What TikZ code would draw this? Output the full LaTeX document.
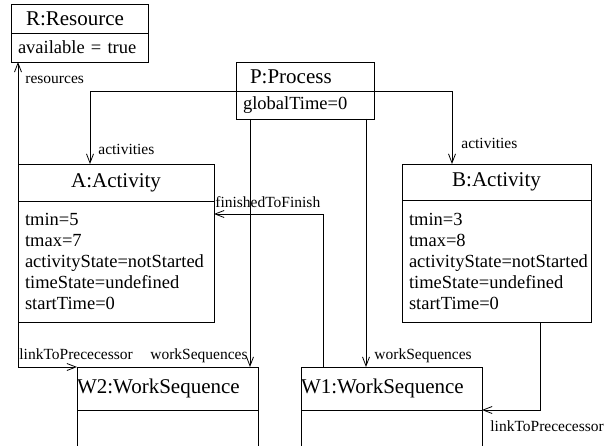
\documentclass[tikz,border=0pt]{standalone}
\usepackage{fontspec}
\setmainfont{Liberation Serif}
\usetikzlibrary{arrows.meta,positioning,calc}

\begin{document}
\begin{tikzpicture}[x=1pt,y=-1pt,
  >={Straight Barb[length=9pt,width=7pt]},
  line width=0.8pt,
  objt/.style={draw, anchor=north west, inner sep=0pt, outer sep=0pt, font=\fontsize{21}{24}\selectfont},
  obja/.style={draw, anchor=north west, inner xsep=7pt, inner ysep=0pt, outer sep=0pt, align=left, font=\fontsize{18.5}{21}\selectfont},
  lbl/.style={inner sep=0pt, font=\fontsize{15.5}{18}\selectfont},
]
\clip (0,0) rectangle (615,446);
% ---------------- objects ----------------
\node[objt, text width=107pt, inner xsep=15pt, align=left, minimum height=29pt] (res) at (11,4) {R:Resource};
\node[obja, text width=123pt, minimum height=29pt] (resat) at (res.south west) {available = true};
\node[objt, text width=110pt, inner xsep=14pt, align=left, minimum height=29pt] (proc) at (236,62) {P:Process};
\node[obja, text width=124pt, minimum height=28pt] (procat) at (proc.south west) {globalTime=0};
\node[objt, minimum width=196pt, minimum height=37pt] (actA) at (18,164) {A:Activity};
\node[obja, text width=182pt, minimum height=121pt] (actAat) at (actA.south west) {tmin=5\\tmax=7\\activityState=notStarted\\timeState=undefined\\startTime=0};
\node[objt, minimum width=189pt, minimum height=36pt] (actB) at (402,164) {B:Activity};
\node[obja, text width=175pt, minimum height=122pt] (actBat) at (actB.south west) {tmin=3\\tmax=8\\activityState=notStarted\\timeState=undefined\\startTime=0};
\node[objt, text width=181pt, align=left, minimum height=43pt] (wsTwo) at (77,367) {W2:WorkSequence};
\node[obja, text width=167pt, minimum height=70pt] (wsTwoat) at (wsTwo.south west) {};
\node[objt, text width=181pt, align=left, minimum height=43pt] (wsOne) at (301,367) {W1:WorkSequence};
\node[obja, text width=167pt, minimum height=70pt] (wsOneat) at (wsOne.south west) {};
% ---------------- links ----------------
\coordinate (pwsTwo) at ([xshift=14pt]procat.south west);
\coordinate (pwsOne) at ([xshift=-8pt]procat.south east);
\coordinate (fffrom) at ([xshift=22pt]wsOne.north west);
\coordinate (lpfrom) at ([xshift=138pt]actBat.south west);
\draw[->] (proc.south west) -| ([xshift=72pt]actA.north west);
\draw[->] (proc.south east) -| ([xshift=50pt]actB.north west);
\draw[->] (actA.north west) -- (actA.north west |- resat.south);
\draw[->] (actAat.south west) |- (wsTwo.north west);
\draw[->] (pwsTwo) -- (pwsTwo |- wsTwo.north);
\draw[->] (pwsOne) -- (pwsOne |- wsOne.north);
\draw[->] (fffrom) |- ([yshift=-13pt]actAat.north east);
\draw[->] (lpfrom) |- (wsOne.south east);
% ---------------- labels ----------------
\node[lbl, anchor=base west] (lres) at (25,84) {resources};
\node[lbl, anchor=base west] (lactA) at (98,155) {activities};
\node[lbl, anchor=base west] (lactB) at (461,149) {activities};
\node[lbl, anchor=base east] (lwsTwo) at (248,359) {workSequences};
\node[lbl, anchor=base west] (lwsOne) at (374,359) {workSequences};
\node[lbl, anchor=base west] (llpA) at (19,359) {linkToPrececessor};
\node[lbl, anchor=base west] (llpB) at (490,431) {linkToPrececessor};
\node[lbl, anchor=base west] (lff) at (215,208) {finishedToFinish};
\end{tikzpicture}
\end{document}
